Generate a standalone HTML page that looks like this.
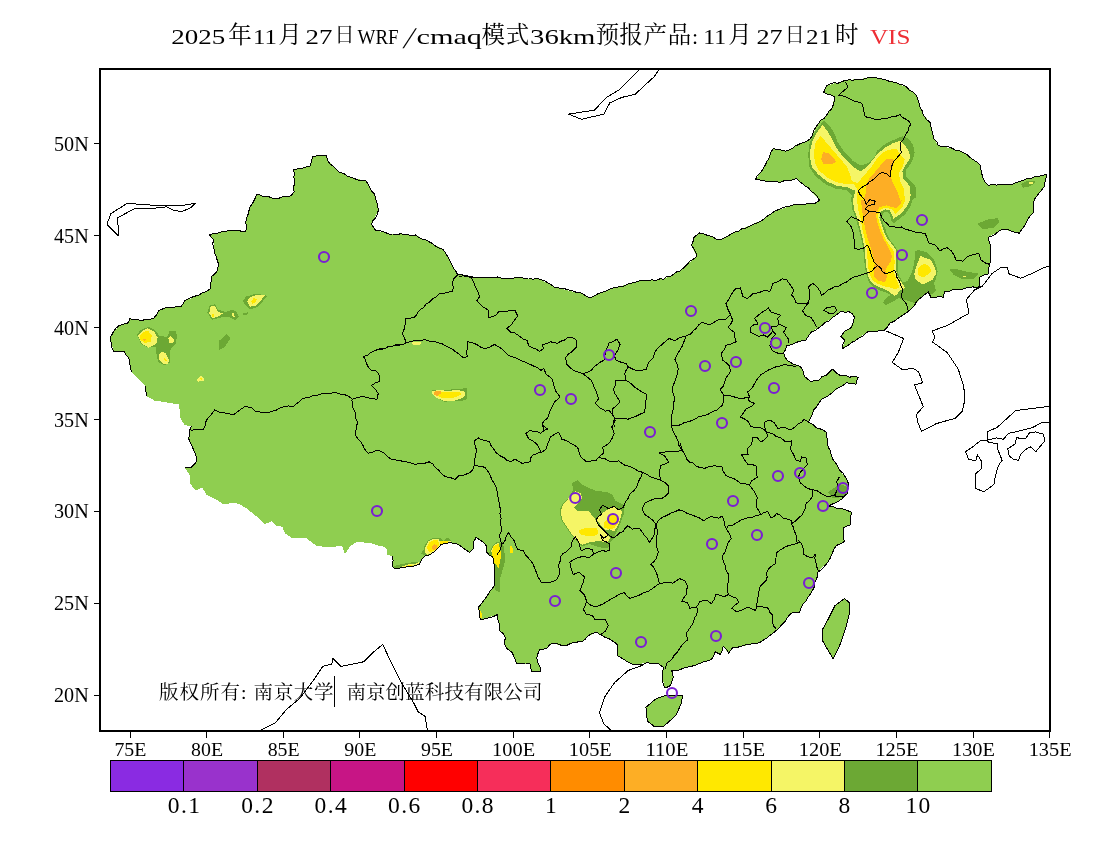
<!DOCTYPE html>
<html lang="zh"><head><meta charset="utf-8"><title>WRF/cmaq VIS</title>
<style>
html,body{margin:0;padding:0;background:#fff;}
body{width:1100px;height:850px;overflow:hidden;position:relative;font-family:"Liberation Serif","Noto Serif CJK SC","Noto Sans CJK SC",serif;color:#000;}
svg{position:absolute;left:0;top:0;}
svg text{font-family:"Liberation Serif","Noto Serif CJK SC","Noto Sans CJK SC",serif;fill:#000;}
.b{fill:none;stroke:#000;stroke-width:1;stroke-linejoin:round;shape-rendering:crispEdges;}
.f{shape-rendering:crispEdges;}
.c{fill:none;stroke:#7a1fd2;stroke-width:2.1;}
</style></head><body>
<svg width="1100" height="850" viewBox="0 0 1100 850">
<defs><clipPath id="fr"><rect x="100" y="69" width="950" height="662"/></clipPath><clipPath id="cn"><path d="M110.1,336.9 L119.1,325.5 L128.6,322.7 L129.5,318.6 L140.9,320.8 L153.2,318.6 L158.6,310.5 L165.5,307.7 L180.5,306.9 L184.5,300.9 L198.2,295.5 L210.5,288.6 L211.8,276.4 L217.3,270.9 L218.6,264.1 L214,249.1 L213.2,239.5 L209.6,234.9 L230.9,230 L245.9,231.4 L245.9,221.8 L250,206.8 L256.8,194.5 L274.5,198.6 L290.9,195.9 L294.2,191.8 L293.6,170 L310,165.9 L312.7,156.4 L326.4,155 L327.7,160.5 L340,172.7 L353.6,178.2 L365.9,180.9 L375.5,197.3 L378.2,210.9 L371.4,224.5 L375.5,230 L389.1,234.1 L415.5,234.9 L442.7,249.1 L457.7,275 L479.5,277.7 L516.4,277.7 L540.9,279.6 L554.5,287.3 L583.2,294.1 L590,297.6 L615.9,287.3 L636.4,281.8 L663.6,279.1 L680,270.9 L687.3,264.4 L696.8,256.2 L691.4,245.3 L694.1,237.1 L699.5,233 L720,239.8 L741.8,228.9 L763.6,219.4 L774.5,211.2 L796.4,204.4 L815.5,203 L819.5,200.3 L808.6,188 L796.4,178.5 L780,182.5 L766.4,181.2 L755.5,179.8 L769.1,158 L773.2,148.5 L785.5,151.2 L801.8,143 L810,138.9 L818.2,123.9 L831.8,108.9 L834.5,96.6 L823.6,92.5 L826.4,85.7 L845.5,80.3 L872.7,77.5 L891.8,81.6 L906.8,87.1 L916.4,95.3 L923.2,114.4 L930,122.5 L934.1,138.9 L938.2,145.7 L952.7,148.6 L966.4,154.1 L980,165 L982.7,177.3 L988.2,185.5 L1012.7,184.1 L1026.4,178.6 L1046.8,174.5 L1044.1,186.8 L1034.5,199.1 L1033.2,212.7 L1026.4,222.3 L1019.5,233.2 L1012.7,231.8 L1003.2,229.1 L988.2,237.3 L990.9,250.9 L989.5,264.5 L988.2,274.1 L980,276.8 L980,286.4 L969.1,287.7 L944.5,291.8 L943.2,297.3 L930.9,297.3 L928.2,291.8 L921.4,297.3 L909.1,310.9 L900.9,316.4 L890,323.2 L884.5,330 L868.2,331.4 L858.6,338.2 L846.4,346.4 L842.3,348.6 L845,340.5 L840.9,336.4 L845,330.9 L850.5,328.2 L854.5,317.3 L849.1,311.8 L840.9,311.3 L832.7,317.3 L821.8,325.5 L810.9,332.3 L805.5,340.5 L794.5,343.2 L786.4,345.9 L783.6,352.7 L787.7,360.9 L801.4,367.7 L804.1,375.9 L810.9,381.4 L819.1,380 L832.7,369.1 L840.9,375.9 L858.6,377.3 L855.9,384.1 L846.4,382.7 L832.7,392.3 L821.8,399.1 L813.6,410 L808.2,422.3 L816.4,427.7 L825.9,431.8 L827.3,442.7 L832.7,459.1 L839.5,470 L847.7,480.9 L847.7,493.2 L838.2,501.4 L828.6,506.8 L840.9,508.2 L851.8,512.3 L850,525 L843.2,527.7 L844.5,541.4 L836.4,545.5 L828.2,561.8 L817.3,572.7 L814.5,586.4 L807.7,597.3 L800.9,608.2 L799.5,612.3 L792.7,612.3 L781.8,624.5 L773.6,632.7 L760,642.3 L749.1,645 L732.7,647.7 L728.6,653.2 L723.2,646.4 L720.5,654.5 L715,651.8 L712.3,658.6 L704.1,661.4 L694.5,665.5 L683.6,668.2 L674.1,670.9 L671.8,670.5 L673.2,677.3 L670.5,685.5 L665,688.2 L662.3,677.3 L663.6,667.7 L658.2,663.6 L647.3,662.3 L636.4,665 L628.2,662.3 L617.3,655.5 L617.3,644.5 L606.4,637.7 L596.8,632.3 L587.3,636.4 L581.8,641.8 L570.9,643.2 L562.7,645.9 L551.8,643.2 L546.4,648.6 L539.5,650 L536.8,658.2 L540.9,671.3 L531.4,671.3 L530,663.6 L516.4,663.6 L512.3,652.7 L506.8,648.6 L504.1,643.2 L505.5,637.7 L500,630.9 L497.3,614.5 L480.9,620 L478.2,607.7 L487.5,595.3 L490.2,590.9 L494,586.5 L494.5,581.1 L494.5,572.4 L494,563.6 L492.9,557.1 L489.1,554.9 L486.4,551.6 L486.9,546.7 L484.7,543.5 L480.4,540.2 L476,537.5 L473.8,541.8 L473.3,548.9 L469.5,552.2 L465.1,549.5 L460.7,546.2 L456.4,543.5 L449.8,542.7 L445.5,543.5 L441.1,544.5 L438.9,547.3 L434.5,551.6 L429.1,555.1 L424.7,556 L421.5,559.8 L419.3,564.2 L416,565.3 L407.3,566.4 L405.1,567.5 L399.6,568 L393.6,568 L392.5,565.8 L393.1,560.4 L392,556 L386.5,554.4 L386.5,549.5 L384.4,546.7 L380,546.2 L370.9,543.2 L357.3,541.8 L350.5,545.9 L345,554.1 L342.3,545.9 L328.6,547.3 L316.4,545.9 L305.5,537.7 L291.8,537.7 L285,533.6 L282.3,526.8 L275.5,525.5 L271.4,521.4 L264.5,524.1 L257.7,517.3 L245.5,507.7 L238.6,503.6 L230.5,503.1 L223.6,504.5 L217.3,500 L206.4,494.5 L202.3,487.7 L195.5,490.5 L190,483.6 L190,475.5 L184.5,467.3 L191.4,467.3 L196.8,460.5 L194.1,450.9 L188.6,438.6 L191.4,426.4 L184.5,425 L180.5,418.2 L179.1,404.5 L170.9,403.2 L154.5,400.5 L146.4,396.4 L145,385.5 L131.4,371.8 L130,360.9 L124.5,351.4 L113.6,351.4Z"/></clipPath></defs>
<g id="title"><text x="171.3" y="43.5" font-size="22" textLength="54.0" lengthAdjust="spacingAndGlyphs">2025</text><text x="240.0" y="43" font-size="23.5" text-anchor="middle">年</text><text x="252.9" y="43.5" font-size="22" textLength="23.9" lengthAdjust="spacingAndGlyphs">11</text><text x="290.0" y="43" font-size="23.5" text-anchor="middle">月</text><text x="305.5" y="43.5" font-size="22" textLength="26.9" lengthAdjust="spacingAndGlyphs">27</text><text x="344.4" y="41.5" font-size="20" text-anchor="middle">日</text><text x="357.5" y="43.5" font-size="22" textLength="41.1" lengthAdjust="spacingAndGlyphs">WRF</text><text transform="translate(402.5,47.6) skewX(-17)" font-size="30">/</text><text x="416.5" y="43.5" font-size="22" textLength="65.5" lengthAdjust="spacingAndGlyphs">cmaq</text><text x="493.3" y="43" font-size="23.5" text-anchor="middle">模</text><text x="517.5" y="43" font-size="23.5" text-anchor="middle">式</text><text x="530.1" y="43.5" font-size="22" textLength="65.3" lengthAdjust="spacingAndGlyphs">36km</text><text x="607.4" y="43" font-size="23.5" text-anchor="middle">预</text><text x="631.0" y="43" font-size="23.5" text-anchor="middle">报</text><text x="655.2" y="43" font-size="23.5" text-anchor="middle">产</text><text x="679.5" y="43" font-size="23.5" text-anchor="middle">品</text><text x="692.0" y="44" font-size="22">:</text><text x="703.2" y="43.5" font-size="22" textLength="22.8" lengthAdjust="spacingAndGlyphs">11</text><text x="739.9" y="43" font-size="23.5" text-anchor="middle">月</text><text x="756.5" y="43.5" font-size="22" textLength="26.2" lengthAdjust="spacingAndGlyphs">27</text><text x="794.8" y="41.5" font-size="20" text-anchor="middle">日</text><text x="806.1" y="43.5" font-size="22" textLength="25.1" lengthAdjust="spacingAndGlyphs">21</text><text x="846.8" y="43" font-size="23.5" text-anchor="middle">时</text><text x="869.9" y="43.5" font-size="22" textLength="40.5" lengthAdjust="spacingAndGlyphs" fill="#ee2f35" style="fill:#ee2f35">VIS</text></g>
<g clip-path="url(#fr)">
<path class="f" d="M110.1,336.9 L119.1,325.5 L128.6,322.7 L129.5,318.6 L140.9,320.8 L153.2,318.6 L158.6,310.5 L165.5,307.7 L180.5,306.9 L184.5,300.9 L198.2,295.5 L210.5,288.6 L211.8,276.4 L217.3,270.9 L218.6,264.1 L214,249.1 L213.2,239.5 L209.6,234.9 L230.9,230 L245.9,231.4 L245.9,221.8 L250,206.8 L256.8,194.5 L274.5,198.6 L290.9,195.9 L294.2,191.8 L293.6,170 L310,165.9 L312.7,156.4 L326.4,155 L327.7,160.5 L340,172.7 L353.6,178.2 L365.9,180.9 L375.5,197.3 L378.2,210.9 L371.4,224.5 L375.5,230 L389.1,234.1 L415.5,234.9 L442.7,249.1 L457.7,275 L479.5,277.7 L516.4,277.7 L540.9,279.6 L554.5,287.3 L583.2,294.1 L590,297.6 L615.9,287.3 L636.4,281.8 L663.6,279.1 L680,270.9 L687.3,264.4 L696.8,256.2 L691.4,245.3 L694.1,237.1 L699.5,233 L720,239.8 L741.8,228.9 L763.6,219.4 L774.5,211.2 L796.4,204.4 L815.5,203 L819.5,200.3 L808.6,188 L796.4,178.5 L780,182.5 L766.4,181.2 L755.5,179.8 L769.1,158 L773.2,148.5 L785.5,151.2 L801.8,143 L810,138.9 L818.2,123.9 L831.8,108.9 L834.5,96.6 L823.6,92.5 L826.4,85.7 L845.5,80.3 L872.7,77.5 L891.8,81.6 L906.8,87.1 L916.4,95.3 L923.2,114.4 L930,122.5 L934.1,138.9 L938.2,145.7 L952.7,148.6 L966.4,154.1 L980,165 L982.7,177.3 L988.2,185.5 L1012.7,184.1 L1026.4,178.6 L1046.8,174.5 L1044.1,186.8 L1034.5,199.1 L1033.2,212.7 L1026.4,222.3 L1019.5,233.2 L1012.7,231.8 L1003.2,229.1 L988.2,237.3 L990.9,250.9 L989.5,264.5 L988.2,274.1 L980,276.8 L980,286.4 L969.1,287.7 L944.5,291.8 L943.2,297.3 L930.9,297.3 L928.2,291.8 L921.4,297.3 L909.1,310.9 L900.9,316.4 L890,323.2 L884.5,330 L868.2,331.4 L858.6,338.2 L846.4,346.4 L842.3,348.6 L845,340.5 L840.9,336.4 L845,330.9 L850.5,328.2 L854.5,317.3 L849.1,311.8 L840.9,311.3 L832.7,317.3 L821.8,325.5 L810.9,332.3 L805.5,340.5 L794.5,343.2 L786.4,345.9 L783.6,352.7 L787.7,360.9 L801.4,367.7 L804.1,375.9 L810.9,381.4 L819.1,380 L832.7,369.1 L840.9,375.9 L858.6,377.3 L855.9,384.1 L846.4,382.7 L832.7,392.3 L821.8,399.1 L813.6,410 L808.2,422.3 L816.4,427.7 L825.9,431.8 L827.3,442.7 L832.7,459.1 L839.5,470 L847.7,480.9 L847.7,493.2 L838.2,501.4 L828.6,506.8 L840.9,508.2 L851.8,512.3 L850,525 L843.2,527.7 L844.5,541.4 L836.4,545.5 L828.2,561.8 L817.3,572.7 L814.5,586.4 L807.7,597.3 L800.9,608.2 L799.5,612.3 L792.7,612.3 L781.8,624.5 L773.6,632.7 L760,642.3 L749.1,645 L732.7,647.7 L728.6,653.2 L723.2,646.4 L720.5,654.5 L715,651.8 L712.3,658.6 L704.1,661.4 L694.5,665.5 L683.6,668.2 L674.1,670.9 L671.8,670.5 L673.2,677.3 L670.5,685.5 L665,688.2 L662.3,677.3 L663.6,667.7 L658.2,663.6 L647.3,662.3 L636.4,665 L628.2,662.3 L617.3,655.5 L617.3,644.5 L606.4,637.7 L596.8,632.3 L587.3,636.4 L581.8,641.8 L570.9,643.2 L562.7,645.9 L551.8,643.2 L546.4,648.6 L539.5,650 L536.8,658.2 L540.9,671.3 L531.4,671.3 L530,663.6 L516.4,663.6 L512.3,652.7 L506.8,648.6 L504.1,643.2 L505.5,637.7 L500,630.9 L497.3,614.5 L480.9,620 L478.2,607.7 L487.5,595.3 L490.2,590.9 L494,586.5 L494.5,581.1 L494.5,572.4 L494,563.6 L492.9,557.1 L489.1,554.9 L486.4,551.6 L486.9,546.7 L484.7,543.5 L480.4,540.2 L476,537.5 L473.8,541.8 L473.3,548.9 L469.5,552.2 L465.1,549.5 L460.7,546.2 L456.4,543.5 L449.8,542.7 L445.5,543.5 L441.1,544.5 L438.9,547.3 L434.5,551.6 L429.1,555.1 L424.7,556 L421.5,559.8 L419.3,564.2 L416,565.3 L407.3,566.4 L405.1,567.5 L399.6,568 L393.6,568 L392.5,565.8 L393.1,560.4 L392,556 L386.5,554.4 L386.5,549.5 L384.4,546.7 L380,546.2 L370.9,543.2 L357.3,541.8 L350.5,545.9 L345,554.1 L342.3,545.9 L328.6,547.3 L316.4,545.9 L305.5,537.7 L291.8,537.7 L285,533.6 L282.3,526.8 L275.5,525.5 L271.4,521.4 L264.5,524.1 L257.7,517.3 L245.5,507.7 L238.6,503.6 L230.5,503.1 L223.6,504.5 L217.3,500 L206.4,494.5 L202.3,487.7 L195.5,490.5 L190,483.6 L190,475.5 L184.5,467.3 L191.4,467.3 L196.8,460.5 L194.1,450.9 L188.6,438.6 L191.4,426.4 L184.5,425 L180.5,418.2 L179.1,404.5 L170.9,403.2 L154.5,400.5 L146.4,396.4 L145,385.5 L131.4,371.8 L130,360.9 L124.5,351.4 L113.6,351.4Z" fill="#8FCE50"/>
<path class="f" d="M844.5,598.6 L849.5,602.7 L849.5,613.6 L845.9,627.3 L840.5,643.6 L833.1,658.6 L828.2,650.5 L822.7,640.9 L822.2,630 L828.2,619.1 L835,605.5Z" fill="#8FCE50"/>
<path class="f" d="M645.9,707.3 L655.5,699.1 L666.4,695 L682.7,695 L681.4,703.2 L675.9,715.5 L663.6,726.4 L654.1,726.4 L647.3,720.9Z" fill="#8FCE50"/>
<g clip-path="url(#cn)" class="f"><path d="M917.3,249.8 L926.4,252 L934.3,260 L937.7,271.4 L935.5,280.5 L932,287.3 L926.4,293 L917.3,294.1 L908.2,294.1 L901.4,296.4 L892.3,302 L885.5,305.5 L883.2,302 L887.7,296.4 L894.5,294.1 L901.4,289.5 L908.2,282.7 L912.7,278.2 L913.9,266.8 L915,255.5Z" fill="#6CA834"/>
<path d="M949.1,268.6 L958.2,269.5 L967.3,271.8 L978.6,273.6 L973,279.3 L962.7,279.3 L953.6,274.8Z" fill="#6CA834"/>
<path d="M962.3,275.5 L966.1,275.5 L966.6,277.3 L962.7,277.3Z" fill="#F5F566"/>
<path d="M977.5,223.6 L987.7,219.5 L998,218 L999.1,222.5 L993.4,227.7 L983.2,229.3Z" fill="#6CA834"/>
<path d="M1020.7,183.9 L1028.6,180.5 L1035.5,181.6 L1030.9,186.1 L1023,187.7Z" fill="#6CA834"/>
<path d="M1028.6,182.3 L1033.2,182.3 L1033.2,184.1 L1029.1,184.1Z" fill="#F5F566"/>
<path d="M824.1,120.3 L829.4,125.6 L834.1,132.6 L837.6,142.1 L844.7,152.6 L852.9,160.9 L861.2,165.6 L868.2,163.2 L874.1,157.4 L877.6,150.3 L884.7,144.4 L894.1,139.7 L902.4,136.2 L908.2,138.5 L912.9,144.4 L914.7,152.6 L912.4,160.9 L905.9,170.3 L905.9,176.2 L912.9,183.2 L916.5,187.9 L915.9,197.4 L912.4,200 L910,207.1 L905.3,214.1 L899.4,218.8 L894.1,223.5 L891.2,221.2 L890,214.1 L886.5,211.8 L882.9,212.9 L881.8,217.6 L882.9,223.5 L885.3,228.2 L886.5,232.9 L890,240 L894.7,245.9 L897.6,250.6 L897.6,268.2 L898.8,275.3 L902.9,282.4 L907.6,281.2 L912.4,270.6 L914.7,261.2 L915.3,250.6 L921.8,250.6 L930,255.3 L934.7,261.2 L937.1,270.6 L933.5,281.2 L935.9,290.6 L932.4,294.1 L924.1,297.6 L919.4,300 L915,303 L905,300 L898,298 L892,302 L885.5,305.5 L883,302 L888,297 L893.5,297.6 L887.6,292.9 L880.6,290.6 L873.5,287.1 L868.8,282.4 L866.5,275.3 L864.7,265.9 L864.1,256.5 L862.9,247.1 L861.2,238.8 L858.8,229.4 L855.9,218.8 L852.4,209.4 L851.2,200 L851.8,195 L847.1,190.3 L835.3,188.5 L825.9,184.4 L815.3,176.2 L809.4,166.8 L808.2,155 L809.4,144.4 L812.9,135 L818.8,126.8Z" fill="#6CA834"/>
<path d="M822.4,125 L827.1,130.3 L831.8,138.5 L836.5,147.9 L843.5,157.4 L851.8,165.6 L860,171.5 L867.1,166.8 L872.9,159.7 L877.6,153.8 L884.7,147.9 L892.9,143.2 L900,140.9 L905.3,145.6 L909.4,152.6 L910,158.5 L905.9,164.4 L902.4,171.5 L903.5,178.5 L909.4,185.6 L910.6,195 L910,200 L906.5,207.1 L900.6,214.1 L893.5,218.8 L890,210.6 L885.3,209.4 L880.6,211.8 L879.4,217.6 L881.8,224.7 L884.1,231.8 L887.6,238.8 L892.4,244.7 L895.9,249.4 L895.9,268.2 L897.1,275.3 L900.6,281.2 L905.3,287.6 L899.4,290.6 L897.6,294.1 L894.1,295.9 L888.8,291.2 L881.8,288.2 L875.3,285.3 L870.6,281.2 L867.9,275.3 L866.2,265.9 L865.3,256.5 L864.4,247.1 L862.7,238.8 L860.4,229.4 L857.6,218.8 L854.1,209.4 L852.9,200 L855.3,190.9 L848.2,187.4 L836.5,185.6 L827.1,181.5 L817.6,173.8 L811.8,166.8 L810,157.4 L810.6,147.9 L812.9,139.7 L817.6,131.5Z" fill="#F5F566"/>
<path d="M820.6,135.6 L825.9,142.1 L832.9,150.3 L840,158.5 L847.1,166.8 L850.6,176.2 L851.8,180.9 L857.6,183.2 L862.4,177.4 L870.6,167.9 L875.3,160.9 L881.2,153.8 L888.2,149.7 L896.5,149.1 L900,153.8 L904.7,159.7 L902.9,166.8 L898.8,172.6 L900,180.9 L903.5,187.9 L904.7,197.4 L905.3,200 L901.8,208.2 L895.9,214.1 L891.2,208.8 L884.1,207.6 L878.8,211.2 L878.2,217.6 L880,224.7 L882.4,231.8 L885.3,238.8 L890,245.9 L893.5,250.6 L894.7,261.2 L894.1,269.4 L894.7,275.3 L897.1,281.2 L899.4,287.1 L895.9,289.4 L890,287.6 L882.9,285.9 L877.1,283.5 L872.4,280 L869.4,274.1 L867.9,265.9 L867.4,256.5 L866.5,247.1 L864.7,238.8 L862.4,229.4 L860.6,218.8 L858.2,209.4 L857.1,200 L857.6,190.3 L854.1,184.4 L847.1,184.4 L836.5,182.1 L827.1,177.4 L818.8,170.3 L814.7,162.1 L814.1,152.6 L815.3,143.2Z" fill="#FFE800"/>
<path d="M887.1,158.5 L892.9,158.5 L894.1,162.1 L891.8,169.1 L890.6,176.2 L892.9,183.2 L897.6,192.6 L900.6,200.9 L901.8,200 L900.6,203.5 L895.9,208.2 L886.5,205.3 L879.4,207.1 L875.9,215.3 L877.6,223.5 L880.6,231.8 L884.1,240 L888.8,248.2 L891.8,255.3 L891.2,261.2 L887.6,265.9 L885.3,270.6 L887.1,276.5 L885.3,281.8 L879.4,281.2 L874.7,277.6 L873.5,270.6 L874.7,263.5 L872.9,255.3 L870.6,247.1 L867.6,238.8 L865.3,229.4 L863.5,218.8 L861.8,209.4 L861.2,200 L863.5,199.7 L865.9,192.6 L865.9,185.6 L869.4,178.5 L876.5,170.3 L882.4,163.2Z" fill="#FDAE25"/>
<path d="M822.9,152.1 L828.2,153.2 L834.1,158.5 L836.5,162.1 L830.6,164.4 L823.5,164.4 L821.2,159.7Z" fill="#FDAE25"/>
<path d="M920.6,255.3 L924.1,257.6 L931.2,260 L934.1,265.9 L936.5,272.9 L932.4,280 L922.9,284.7 L915.9,280 L914.1,274.1 L916.5,265.9Z" fill="#F5F566"/>
<path d="M924.1,263.5 L928.8,265.9 L931.2,270.6 L928.8,274.1 L922.9,277.6 L918.2,275.3 L917.6,269.4 L920.6,265.9Z" fill="#FFE800"/>
<path d="M572.3,483.2 L577.6,480.1 L582.3,484.8 L588.7,488 L597.2,491.2 L605.6,491.7 L612,494.4 L615.2,500.7 L622.1,503.9 L624.7,507.1 L623.6,514.5 L620.5,522.9 L617.3,530.3 L614.1,537.8 L609.9,543.1 L607.8,548.3 L599.3,547.3 L589.8,544.1 L582.3,546.2 L579.2,544.1 L573.9,537.8 L569.6,532.5 L565.4,526.1 L561.2,519.8 L559.6,510.2 L562.2,503.9 L568.6,498.6 L572.8,490.1Z" fill="#6CA834"/>
<path d="M570.7,495.4 L574.9,491.2 L580.2,492.8 L582.3,497.5 L578.1,503.9 L573.9,507.1 L577.1,510.8 L588.7,511.3 L594,517.6 L597.2,521.9 L600.3,526.1 L603.5,530.3 L606.7,534.6 L609.9,537.8 L607.8,542 L603.5,542 L599.3,540.9 L590.8,542 L582.3,544.6 L579.2,543.1 L574.9,537.8 L570.7,532.5 L566.5,526.1 L562.2,519.8 L560.6,511.3 L562.8,504.9 L567.5,499.6Z" fill="#F5F566"/>
<path d="M613.1,506 L616.2,509.2 L622.6,510.8 L620.5,517.6 L618.3,525.1 L614.1,531.4 L609.9,529.3 L605.6,530.3 L602.5,527.2 L599.3,522.9 L596.1,519.2 L603.5,512.3Z" fill="#F5F566"/>
<path d="M579.2,530.3 L586.6,527.7 L597.2,528.2 L598.2,533.5 L595.1,535.6 L585.5,535.6 L579.7,534.1Z" fill="#FFE800"/>
<path d="M608.8,516.6 L614.1,513.4 L618.3,516.6 L618.9,521.9 L616.2,525.1 L614.1,528.2 L608.8,529.3 L603.5,527.2 L603.5,522.9 L606.7,519.8Z" fill="#FFE800"/>
<path d="M137,334.5 L140.9,329.8 L148.6,326.7 L154.8,329.8 L159.5,336 L167.2,336.8 L169.5,331.4 L175.7,330.6 L177.2,336 L175.7,343.7 L171,348.4 L169.5,353 L170.3,362.3 L164.1,365.4 L157.9,361.5 L156.4,353 L155.6,346.8 L148.6,347.6 L140.9,343.7Z" fill="#6CA834"/>
<path d="M137.8,336 L141.7,331.4 L147.9,328.3 L154,331.4 L157.6,337.5 L156.4,343.7 L148.6,347.6 L141.7,343.7Z" fill="#F5F566"/>
<path d="M139.4,336.8 L143.2,332.1 L147.9,330.6 L151.7,335.2 L151,341.4 L144.8,343 L140.1,339.9Z" fill="#FFE800"/>
<path d="M143.2,339.1 L146.3,339.1 L144.8,341.4Z" fill="#FDAE25"/>
<path d="M168.4,338.3 L171,336 L173.7,339.1 L173.4,343.4 L169.5,343.4Z" fill="#F5F566"/>
<path d="M158.7,354.5 L161.8,351.5 L165.6,353 L168.7,359.2 L168.4,363.5 L163.3,363.8 L159.5,360Z" fill="#F5F566"/>
<path d="M164.1,357.6 L167.2,360.7 L164.9,361.5Z" fill="#FFE800"/>
<path d="M207.4,312.8 L209.7,305.1 L215.1,304.3 L218.2,309.7 L225.9,312 L232.1,309.7 L236.7,312 L239,316.7 L235.2,320.5 L230.5,317.5 L224.4,316.7 L218.2,318.2 L212,319.8Z" fill="#6CA834"/>
<path d="M209.2,313.6 L210.8,305.9 L214.8,305.9 L217.4,311.3 L222.8,313.6 L218.2,316.7 L212.8,318.2Z" fill="#F5F566"/>
<path d="M212,313.6 L213.9,313.6 L213.5,316.7 L212,316.7Z" fill="#FFE800"/>
<path d="M232.1,313.6 L233.6,312.8 L234.9,316.7 L232.9,317.8Z" fill="#F5F566"/>
<path d="M242.9,301.2 L246,296.6 L253.7,294.3 L264.5,294.6 L266.9,296.1 L262.2,302 L256.8,307.4 L249.9,309.7 L246,305.9Z" fill="#6CA834"/>
<path d="M247.2,301.2 L249.9,297.4 L256,295 L264.5,295.5 L260.7,301.2 L256,305.9 L249.9,306.6Z" fill="#F5F566"/>
<path d="M251.4,301.2 L253.7,298.1 L256.8,298.9 L255.3,302 L251.9,304.8Z" fill="#FFE800"/>
<path d="M242.6,313.6 L248.3,312 L248.3,314.1 L243.7,315.6Z" fill="#6CA834"/>
<path d="M219.3,340.6 L226.7,334.1 L230.5,338.3 L224.4,347.6 L219.3,349.6Z" fill="#6CA834"/>
<path d="M196.2,380 L201.2,375.9 L203.5,377.7 L203.5,381.1 L198.1,381.6Z" fill="#F5F566"/>
<path d="M199.6,378.5 L202.4,377.7 L202.4,380.5Z" fill="#FFE800"/>
<path d="M432,390 L458.3,389.3 L466.8,387.7 L466.8,399.3 L461.4,400.9 L444.4,401.6 L435.1,397Z" fill="#6CA834"/>
<path d="M432,391.6 L438.2,390 L447.5,390.8 L458.3,390 L464.5,391.6 L465.2,395.5 L461.4,398.5 L453.6,400.9 L444.4,400.9 L436.6,397.8 L432.8,394.7Z" fill="#F5F566"/>
<path d="M436.6,391.6 L447.5,391.6 L458.3,391.6 L461.4,393.9 L458.3,396.2 L450.6,398.5 L441.3,397.8 L436.6,395.5Z" fill="#FFE800"/>
<path d="M433.9,391.6 L440.5,391.1 L441.3,393.1 L436.6,396.2 L434.3,394.7Z" fill="#FDAE25"/>
<path d="M412.2,341.8 L420.9,341.8 L420.4,345.1 L412.7,345.1Z" fill="#F5F566"/>
<path d="M420.9,553.8 L423.6,549.5 L424.7,545.1 L428,540.7 L433.5,537.5 L439.5,537.5 L443.3,540.7 L447.6,537.5 L450.9,540.2 L449.8,542.9 L445.5,543.5 L441.1,544.5 L436.7,551.6 L426.9,555.5Z" fill="#6CA834"/>
<path d="M425.3,547.3 L428,541.8 L432.4,539.1 L437.8,538.5 L440.5,541.8 L440,547.3 L436.7,551.1 L431.3,553.8 L426.9,554.9 L424.7,551.6Z" fill="#F5F566"/>
<path d="M426.9,547.3 L429.1,542.4 L433.5,540.2 L437.8,540.2 L439.5,543.5 L437.8,548.4 L433.5,551.1 L429.1,552.2Z" fill="#FFE800"/>
<path d="M432.4,545.6 L434.5,544 L436.7,545.6 L437.3,548.9 L434,550 L432.1,548.9Z" fill="#FDAE25"/>
<path d="M448.2,540.7 L450.9,540.5 L450.9,542.9 L448.2,543.1Z" fill="#F5F566"/>
<path d="M394.2,565.8 L401.8,564.2 L410.5,562.5 L418.2,561.5 L419.8,563.6 L416,565.8 L405.1,568 L393.6,568.5Z" fill="#6CA834"/>
<path d="M393.1,569.1 L399.6,567.5 L405.1,565.3 L410.5,564 L417.1,563.4 L418.7,562.3 L419.5,564.7 L416,566 L409.5,567.7 L401.8,570.4 L393.1,570.9Z" fill="#F5F566"/>
<path d="M393.6,569.3 L399.6,568 L406.2,566 L410.5,564.7 L412.7,565.3 L409.5,567.1 L401.8,570 L393.6,570.6Z" fill="#FFE800"/>
<path d="M400.7,568.9 L406.2,567.1 L408.9,566.9 L407.3,568 L401.8,569.7Z" fill="#FDAE25"/>
<path d="M489.1,552.7 L492.4,546.2 L496.7,541.8 L500,541.8 L500,592 L495.6,590.9 L494,581.1 L493.5,565.8 L491.3,559.3Z" fill="#6CA834"/>
<path d="M490.7,551.1 L494,545.1 L498.4,542.9 L500,544 L500,563.6 L498.4,569.1 L496.7,565.8 L494.5,557.1Z" fill="#F5F566"/>
<path d="M492.4,551.1 L495.1,546.2 L498.4,544.5 L499.5,552.7 L498.9,560.4 L497.3,561.5 L495.6,556Z" fill="#FFE800"/>
<path d="M489.1,554.5 L502.7,540.9 L505.5,560 L500,579.1 L494.5,587.3 L493.2,568.2Z" fill="#6CA834"/>
<path d="M493.2,546.4 L498.6,543.6 L501.4,554.5 L498.6,568.2 L494.5,562.7 L491.8,553.2Z" fill="#FFE800"/>
<path d="M509.5,546.4 L512.3,546.4 L513.1,553.2 L509.5,553.2Z" fill="#FFE800"/>
<path d="M479.5,609.1 L482.3,614.5 L480.9,620 L478.2,618.6Z" fill="#FFE800"/>
<path d="M440,540.9 L450.9,541.7 L450.4,543.6 L440,543.6Z" fill="#FFE800"/>
<path d="M828,492 L840,484 L850,488 L846,497 L832,498Z" fill="#6CA834"/>
</g>
<path class="b" d="M131.4,371.8 L130.6,368.2 L129.9,364.6 L130,360.9 L128.4,357.6 L125.7,354.9 L124.5,351.4 L120.9,351.3 L117.2,351.6 L113.6,351.4 L112,348 L111.9,344.1 L110.2,340.7 L110.1,336.9 L112.3,334 L114,330.7 L116.3,327.9 L119.1,325.5 L123.8,324 L128.6,322.7 L129.5,318.6 L133.2,319.9 L137.2,319.4 L140.9,320.8 L144.9,319.6 L149.1,319.5 L153.2,318.6 L156.5,315 L158.6,310.5 L162.1,309.2 L165.5,307.7 L169.2,307.3 L173,308.1 L176.7,306.3 L180.5,306.9 L183,304.2 L184.5,300.9 L187.8,299.2 L191.1,297.6 L194.5,296.2 L198.2,295.5 L202.1,292.9 L206.7,291.4 L210.5,288.6 L210.4,284.5 L211.5,280.5 L211.8,276.4 L214.7,273.8 L217.3,270.9 L218.6,264.1 L217.2,260.4 L216.4,256.6 L214.4,253.1 L214,249.1 L212.9,244.4 L213.2,239.5 L209.6,234.9 L213,233.6 L216.8,233.6 L220.2,232.3 L223.7,231.3 L227.4,231 L230.9,230 L234.7,230.3 L238.4,230.4 L242.1,231.5 L245.9,231.4 L246.2,226.6 L245.9,221.8 L246.5,217.9 L248.1,214.3 L249,210.6 L250,206.8 L252.8,203 L254.9,198.8 L256.8,194.5 L260.4,195 L263.7,196.9 L267.6,196.3 L271,197.6 L274.5,198.6 L278.7,198.4 L282.6,196.7 L286.8,196.6 L290.9,195.9 L294.2,191.8 L293.3,188.2 L294.3,184.5 L294.3,180.9 L293.9,177.3 L294.3,173.6 L293.6,170 L297.6,168.7 L301.9,168.3 L305.9,167.1 L310,165.9 L311.5,161.2 L312.7,156.4 L317.3,155.9 L321.9,156 L326.4,155 L327.7,160.5 L330.2,164.1 L333.9,166.6 L336.7,169.8 L340,172.7 L343.7,173.4 L346.7,175.8 L350.1,177.1 L353.6,178.2 L357.5,179.9 L361.7,180.5 L365.9,180.9 L368.1,184 L369.9,187.4 L371.4,190.9 L374.3,193.6 L375.5,197.3 L376.5,201.8 L377.9,206.3 L378.2,210.9 L377.1,214.6 L375.5,218 L372.7,220.9 L371.4,224.5 L375.5,230 L380.2,230.8 L384.7,232.3 L389.1,234.1 L392.9,234 L396.6,235 L400.4,233.7 L404.2,234.5 L408,234.8 L411.7,235.4 L415.5,234.9 L418.6,237.2 L422,239 L425.9,239.9 L429.2,241.9 L432.6,243.6 L435.6,246.1 L438.9,248 L442.7,249.1 L445.1,252 L446.9,255.3 L448.7,258.6 L450.6,261.8 L452.1,265.3 L453.8,268.6 L456.2,271.6 L457.7,275 L461.4,274.6 L465,275.8 L468.6,276.1 L472.2,276.9 L475.8,278 L479.5,277.7 L483.2,278 L486.9,277.7 L490.6,277.9 L494.3,278 L497.9,276.9 L501.6,278.4 L505.3,278.2 L509,278.3 L512.7,278.2 L516.4,277.7 L520.5,277.8 L524.6,278.2 L528.7,278 L532.7,279.2 L536.9,278.5 L540.9,279.6 L544.7,280.9 L547.9,283 L551.4,284.9 L554.5,287.3 L558.2,287.9 L561.9,288.3 L565.5,289 L569,290.1 L572.6,290.9 L576.1,292.2 L579.8,292.5 L583.2,294.1 L586.3,296.4 L590,297.6 L593.8,296.3 L597.2,294.1 L600.9,292.8 L604.7,291.5 L608.4,290 L612,288.2 L615.9,287.3 L620.2,286.8 L624.3,285.9 L628.2,283.9 L632.3,282.9 L636.4,281.8 L640.2,280.7 L644.1,280.4 L648,280.4 L651.9,279.9 L655.9,280.4 L659.7,278.9 L663.6,279.1 L666.5,276.7 L670.5,276.5 L673.5,274.2 L676.5,272 L680,270.9 L683.7,267.7 L687.3,264.4 L689.9,261.1 L693.7,259 L696.8,256.2 L695.7,252.2 L693.8,248.7 L691.4,245.3 L693.1,241.3 L694.1,237.1 L699.5,233 L703.7,234 L707.8,235.5 L712,236.5 L715.8,238.9 L720,239.8 L723.7,238 L727.5,236.6 L730.8,234.1 L734.3,232.1 L738.4,231.2 L741.8,228.9 L745.8,228.1 L749.3,226.3 L752.9,224.6 L756.5,223.1 L760.1,221.4 L763.6,219.4 L767,216.3 L770.9,214 L774.5,211.2 L778.1,209.8 L781.6,208.2 L785.2,207 L789,206.3 L792.6,205.1 L796.4,204.4 L800.2,204.4 L804.1,204.6 L807.9,203.5 L811.7,204 L815.5,203 L819.5,200.3 L817.4,196.7 L814.6,193.6 L811.2,191.2 L808.6,188 L805.3,186 L802.2,183.6 L799.1,181.3 L796.4,178.5 L792.4,180 L788.2,180.3 L783.9,180.8 L780,182.5 L775.5,181.5 L770.9,181.7 L766.4,181.2 L762.8,180.5 L759.2,179.8 L755.5,179.8 L756.8,176.3 L759.6,173.7 L761.9,170.8 L763.7,167.6 L765.6,164.5 L767.1,161.1 L769.1,158 L770.6,153 L773.2,148.5 L777.2,149.9 L781.5,150 L785.5,151.2 L789,150 L792.4,148.6 L795.2,146.1 L798.5,144.5 L801.8,143 L806.2,141.6 L810,138.9 L812.4,135.3 L813.6,131.1 L815.6,127.3 L818.2,123.9 L820.5,120.5 L824.1,118.4 L826.7,115.2 L828.6,111.5 L831.8,108.9 L833.2,104.9 L834.4,100.9 L834.5,96.6 L831,95 L827.1,94.1 L823.6,92.5 L825.1,89.1 L826.4,85.7 L830,84 L833.8,82.7 L838.1,83.2 L841.7,81.6 L845.5,80.3 L849.4,79.9 L853.3,80.2 L857.1,79 L861.1,79.3 L865,78.9 L868.8,77.4 L872.7,77.5 L876.6,77.9 L880.4,78.8 L884.3,79.5 L887.9,80.9 L891.8,81.6 L895.7,82.6 L899.3,84.2 L903.3,85.1 L906.8,87.1 L909.5,90.4 L913.4,92.4 L916.4,95.3 L917.8,99.1 L919,103 L919.8,107 L922,110.5 L923.2,114.4 L926.1,118.9 L930,122.5 L931,126.6 L932,130.7 L933,134.8 L934.1,138.9 L936.9,141.9 L938.2,145.7 L941.8,146.3 L945.6,146.6 L949.2,147 L952.7,148.6 L955.9,150.4 L959.8,150.8 L963,152.7 L966.4,154.1 L969.6,157.1 L973.1,159.6 L976.8,162 L980,165 L980.9,169.1 L981.7,173.2 L982.7,177.3 L985,181.7 L988.2,185.5 L992.2,184.6 L996.4,185.1 L1000.4,184.4 L1004.5,184.2 L1008.6,184.8 L1012.7,184.1 L1016.1,182.7 L1019.6,181.4 L1023.1,180.4 L1026.4,178.6 L1030.6,178.5 L1034.5,176.9 L1038.7,176.3 L1042.7,175.3 L1046.8,174.5 L1045.9,178.6 L1044.7,182.6 L1044.1,186.8 L1041.8,189.9 L1039.3,192.9 L1036.9,196 L1034.5,199.1 L1033.3,203.6 L1033.3,208.1 L1033.2,212.7 L1030.4,215.5 L1028.1,218.7 L1026.4,222.3 L1024.4,226.2 L1021.7,229.5 L1019.5,233.2 L1012.7,231.8 L1008.2,229.7 L1003.2,229.1 L999.2,230.6 L996,233.7 L992.3,235.8 L988.2,237.3 L989.2,241.8 L990.7,246.2 L990.9,250.9 L990.9,255.5 L990.7,260 L989.5,264.5 L988.6,269.3 L988.2,274.1 L983.9,275 L980,276.8 L979.3,281.6 L980,286.4 L976.4,287.4 L972.7,286.9 L969.1,287.7 L965,288.1 L961,289.7 L956.7,289.1 L952.6,289.6 L948.7,291.6 L944.5,291.8 L943.2,297.3 L939.1,296.5 L935,297.5 L930.9,297.3 L928.2,291.8 L924.8,294.6 L921.4,297.3 L918.3,299.5 L916.1,302.4 L914.4,305.8 L911.6,308.3 L909.1,310.9 L905,313.6 L900.9,316.4 L897.4,318.9 L893.9,321.4 L890,323.2 L887.5,326.8 L884.5,330 L880.4,330 L876.4,331.5 L872.3,331 L868.2,331.4 L865.1,333.7 L862.3,336.6 L858.6,338.2 L855.7,340.5 L852.4,342.1 L849.4,344.3 L846.4,346.4 L842.3,348.6 L842.9,344.3 L845,340.5 L840.9,336.4 L845,330.9 L850.5,328.2 L852.6,324.9 L853.6,321.1 L854.5,317.3 L852.4,314 L849.1,311.8 L845,312.2 L840.9,311.3 L837,314.6 L832.7,317.3 L829.5,320.7 L825.1,322.4 L821.8,325.5 L818.4,328.1 L814.9,330.6 L810.9,332.3 L808.3,336.5 L805.5,340.5 L801.7,340.7 L798,341.8 L794.5,343.2 L790.6,344.9 L786.4,345.9 L785.6,349.5 L783.6,352.7 L785,357.1 L787.7,360.9 L791.1,362.7 L794.4,364.6 L798.3,365.4 L801.4,367.7 L803.5,371.6 L804.1,375.9 L807.3,378.9 L810.9,381.4 L815,380.6 L819.1,380 L822,376.7 L826.4,375.1 L829.4,372 L832.7,369.1 L836.5,372.9 L840.9,375.9 L845.4,375.5 L849.7,377.2 L854.2,376.2 L858.6,377.3 L856.7,380.5 L855.9,384.1 L851.1,383.5 L846.4,382.7 L843.1,385.3 L839.5,387.4 L835.7,389.3 L832.7,392.3 L829.3,394.9 L825.8,397.4 L821.8,399.1 L819,402.7 L816.7,406.6 L813.6,410 L812.4,414.4 L810.5,418.4 L808.2,422.3 L812.7,424.4 L816.4,427.7 L821.4,429.3 L825.9,431.8 L826.7,435.4 L827.2,439 L827.3,442.7 L828.2,446.9 L830.3,450.8 L831.3,455 L832.7,459.1 L835.4,462.4 L837.5,466.2 L839.5,470 L842.9,473.1 L845.3,477 L847.7,480.9 L848.5,485 L847.3,489.1 L847.7,493.2 L844.5,495.9 L841.7,499.1 L838.2,501.4 L835,503.2 L831.4,504.4 L828.6,506.8 L832.8,506.6 L836.7,508.3 L840.9,508.2 L844.6,509.5 L848.2,510.9 L851.8,512.3 L850.6,516.5 L850.8,520.8 L850,525 L846.6,526.3 L843.2,527.7 L843.3,532.3 L843.3,536.9 L844.5,541.4 L840.6,543.7 L836.4,545.5 L834.3,548.5 L832.8,551.9 L831.3,555.2 L830,558.6 L828.2,561.8 L825.7,564.7 L823.3,567.8 L820.5,570.4 L817.3,572.7 L817.1,577.4 L815,581.8 L814.5,586.4 L812.6,590.3 L810.5,594 L807.7,597.3 L806,601.3 L802.7,604.3 L800.9,608.2 L799.5,612.3 L792.7,612.3 L789.5,614.9 L787,618.2 L784.8,621.7 L781.8,624.5 L779.4,627.5 L776.6,630.2 L773.6,632.7 L770.2,635.2 L767.1,638 L763.5,640 L760,642.3 L756.5,643.6 L752.5,643.3 L749.1,645 L744.9,644.9 L740.9,646.3 L736.9,647.5 L732.7,647.7 L728.6,653.2 L726.5,649.3 L723.2,646.4 L722.2,650.6 L720.5,654.5 L715,651.8 L713.9,655.3 L712.3,658.6 L708.5,660.8 L704.1,661.4 L699.4,663.6 L694.5,665.5 L690.9,666.4 L687.2,667.3 L683.6,668.2 L679,670 L674.1,670.9 L671.8,670.5 L673.2,677.3 L671.8,681.4 L670.5,685.5 L665,688.2 L663.3,684.8 L662.8,681 L662.3,677.3 L662.3,672.4 L663.6,667.7 L658.2,663.6 L654.5,663.3 L650.8,663.5 L647.3,662.3 L643.9,664 L640.1,664.4 L636.4,665 L632.2,664.1 L628.2,662.3 L624.6,659.9 L621,657.7 L617.3,655.5 L617.7,651.8 L617.6,648.2 L617.3,644.5 L613.9,641.9 L610.4,639.4 L606.4,637.7 L603.1,636.1 L599.9,634.4 L596.8,632.3 L591.7,633.6 L587.3,636.4 L585,639.5 L581.8,641.8 L578.1,641.9 L574.5,642.5 L570.9,643.2 L567,645.3 L562.7,645.9 L559.2,644.4 L555.6,643.5 L551.8,643.2 L548.9,645.7 L546.4,648.6 L539.5,650 L537.8,654 L536.8,658.2 L537.7,662.7 L540.1,666.8 L540.9,671.3 L536.1,671.3 L531.4,671.3 L530.7,667.4 L530,663.6 L525.5,663 L520.9,663.1 L516.4,663.6 L515.6,659.8 L513.8,656.3 L512.3,652.7 L506.8,648.6 L504.1,643.2 L505.5,637.7 L503.3,633.9 L500,630.9 L499.6,626.7 L499,622.6 L497.5,618.7 L497.3,614.5 L493.5,616.6 L489.3,617.8 L485.1,618.8 L480.9,620 L479.3,616 L479.7,611.7 L478.2,607.7 L480.6,604.7 L483,601.6 L485.3,598.5 L487.5,595.3 L490.2,590.9 L494,586.5 L494.5,581.1 L494.8,576.8 L494.5,572.4 L494.2,568 L494,563.6 L492.9,557.1 L489.1,554.9 L486.4,551.6 L486.9,546.7 L484.7,543.5 L480.4,540.2 L476,537.5 L473.8,541.8 L473.3,548.9 L469.5,552.2 L465.1,549.5 L460.7,546.2 L456.4,543.5 L449.8,542.7 L445.5,543.5 L441.1,544.5 L438.9,547.3 L434.5,551.6 L429.1,555.1 L424.7,556 L421.5,559.8 L419.3,564.2 L416,565.3 L411.8,566.7 L407.3,566.4 L405.1,567.5 L399.6,568 L393.6,568 L392.5,565.8 L393.1,560.4 L392,556"/>
<path class="b" d="M184.5,467.3 L191.4,467.3 L194.5,464.2 L196.8,460.5 L195.9,455.6 L194.1,450.9 L192.3,446.8 L190.5,442.7 L188.6,438.6 L189.8,434.6 L189.7,430.3 L191.4,426.4"/>
<path class="b" d="M146.4,396.4 L146.3,392.7 L145,389.2 L145,385.5"/>
<path class="b" d="M844.5,598.6 L849.5,602.7 L849.5,613.6 L845.9,627.3 L840.5,643.6 L833.1,658.6 L828.2,650.5 L822.7,640.9 L822.2,630 L828.2,619.1 L835,605.5Z"/>
<path class="b" d="M645.9,707.3 L655.5,699.1 L666.4,695 L682.7,695 L681.4,703.2 L675.9,715.5 L663.6,726.4 L654.1,726.4 L647.3,720.9Z"/>
<path class="b" d="M982.6,286 L974.5,290 L966.4,299.5 L969.1,313.2 L947.3,325.5 L932.3,330.9 L935,337.7 L932.3,341.8 L947.3,352.7 L958.2,369.1 L963.6,385.5 L965,399.1 L962.3,411.4 L955.5,418.2 L936.4,423.6 L921.4,431.3 L917.3,420.9 L916.7,414.1 L923.3,406.7 L914.5,384.9 L922.7,382.7 L918.6,371.8 L913.2,368.5 L902.3,369.6 L892.2,362.3 L898.2,352.7 L903.6,338.5 L885.9,330.9"/>
<path class="b" d="M1050,406.3 L1015.7,410.5 L1005.8,419.5 L996.8,427.7 L987.7,431.4 L987.4,440.1 L996.8,437.9 L1003.4,439.3 L1008.3,433.5 L1019,431 L1032.2,427.7 L1042.1,422.5 L1050,423.1"/>
<path class="b" d="M987.4,440.1 L980.3,440.9 L972.9,446.7 L965.5,451.6 L968.8,459.8 L975.9,460.3 L977.5,454.9 L981.2,460.7 L981.2,468.9 L975.4,473.8 L975.4,488.6 L984.1,491.6 L994,484.5 L995.1,477.1 L998.4,465.6 L1002.2,460.3 L997.6,449.1 L997.3,443.4 L988.6,442.6 L987.4,440.1"/>
<path class="b" d="M1043.7,434.3 L1035.5,431.9 L1029.7,432.7 L1025.6,438.4 L1016.5,437.9 L1014.9,444.2 L1007.8,448.8 L1009.1,455.7 L1013.3,459.3 L1018.7,460.3 L1020.7,454.1 L1024.8,450 L1030.2,446.7 L1035.8,451.6 L1044.5,441.2 L1043.7,434.3"/>
<path class="b" d="M643.2,665 L628.2,670.5 L614.5,682.7 L605,696.4 L599.5,712.7 L603.6,723.6 L610.5,729.9"/>
<path class="b" d="M106.8,224.5 L110.9,213.6 L127.3,203.3 L147.7,204.9 L168.2,206 L181.8,205.5 L195.5,203.3 L190,208.2 L181.8,211.5 L173.6,210.4 L166.8,206.8 L154.5,208.2 L135.5,208.2 L117.7,217.7 L118.5,236 L106.8,224.5"/>
<path class="b" d="M639.6,69.5 L629.5,79.6 L619.3,89.8 L606.2,97.5 L594.5,110.2 L568.4,114.1 L581.5,119.3 L604,114.1 L609.8,102.9 L621.5,97.5 L635.3,94.2 L646.9,83.3 L654.2,76.7 L659,69.5"/>
<path class="b" d="M261.4,730 L275,723.2 L286.4,709.5 L300,698.2 L313.6,680 L322.7,666.4 L331.8,664.1 L332.7,658.2 L340.9,666.4 L363.6,661.8 L372.7,652.7 L382.7,644.5 L390.9,661.8 L400,680 L413.6,702.7 L418.2,711.8 L425,716.4 L427.3,730"/>
<path class="b" d="M982.6,285.9 L991.8,273.7 L1001,267.5 L1007.7,267.5 L1008.6,273.7 L1020.8,278.2 L1031.5,273.7 L1043.8,267.5 L1049.9,266"/>
<path class="b" d="M191.4,430.5 L195.4,429.3 L199.5,429.2 L203.6,429.1 L205.3,425.6 L205.9,421.7 L207.7,418.2 L211.4,414.4 L214.5,410 L219.1,412.1 L224.1,412.7 L228.9,413.8 L233.6,414.9 L237.1,412 L240.8,409.4 L244.5,406.7 L251.4,407.3 L255.5,411.4 L260,412 L264.5,412.4 L269.1,412.2 L273,411.1 L276.8,409.9 L280.3,407.7 L284.2,406.6 L288.2,405.9 L293.6,406.7 L296,403.9 L299.3,401.9 L301.8,399.1 L305.8,397.8 L310,397.2 L313.9,395.2 L318.2,395 L322.2,393.6 L326.3,393.3 L330.5,393.3 L334.5,392.3 L338.1,393.5 L341.8,394.4 L345.5,395 L349.1,396.7 L352.3,399.1 L357.1,397.8 L361.8,396.4 L365.6,397.2 L369.3,398.1 L373.2,398.4 L376.8,399.9 L378.2,393.6 L375.3,389.1 L371.4,385.5 L375.2,383 L379.5,381.4 L379.7,377.2 L378.2,373.2 L375.4,370.7 L371.4,370.2 L368.6,367.7 L366.7,363.9 L365.5,359.9 L363.2,356.3 L367.1,355.5 L370.2,353.1 L373.7,351.3 L377.2,349.7 L380.9,348.6 L384.9,348.5 L388.4,346.5 L392.4,346.3 L396.1,344.7 L400,344.5"/>
<path class="b" d="M351.8,400 L352.7,403.6 L352.9,407.5 L354.5,410.9 L356,414.4 L355.8,418.3 L357.3,421.8 L356.8,426.4 L355.7,430.9 L355.9,435.5 L357.9,438.9 L360.8,441.6 L362.7,445 L364.9,449.5 L368.2,453.2 L372.3,452.3 L376.2,450.6 L380.5,450.5"/>
<path class="b" d="M380,450.9 L384.1,453 L387.3,456.4 L390.9,459.1 L395.4,459.9 L400,460.6 L404.5,461.8 L408.3,462.1 L411.9,463.3 L415.5,464.5 L420,463.3 L424.7,463.3 L429.1,461.8 L432.8,463.9 L435.2,467.6 L438.6,470 L441.6,473.8 L445.5,476.8 L450.4,477.5 L455,479.5 L459.1,475.5 L462.9,475.3 L466.5,474 L470,472.7 L472.6,469.7 L474.1,465.9 L477.8,466 L481.4,466.6 L485,467.3 L487.9,471.3 L490.5,475.5 L491.5,479.5 L494,482.8 L495.9,486.4 L497,490.9 L497.8,495.4 L498.6,500 L499.4,504.5 L500.3,509 L500,513.6 L501.1,518.1 L500.4,522.8 L501.4,527.3 L501.3,531 L499.7,534.5 L500,538.2 L501.1,542.2 L501.4,546.4 L499.7,550.6 L497.3,554.5"/>
<path class="b" d="M474.1,465.9 L474.1,461.8 L475,458.2 L475.4,454.4 L476.8,450.9 L475.2,446.2 L474.1,441.4 L478.2,437.8 L481.6,439.7 L485.3,440.8 L489.1,441.4 L490.9,445.3 L493.4,448.8 L495.9,452.3 L499.6,455.6 L504.1,457.7 L507.1,460.4 L510.9,461.8 L515,459.1 L518.4,461.2 L521.8,463.2 L526,462.9 L530,461.8 L530.6,458.1 L532.7,455 L537,453.6 L540.9,451.5 L538.8,447.8 L536.8,444.1 L532.9,441 L528.6,438.6 L525.9,433.2 L530,430.5 L533.6,431.6 L537.4,431.9 L540.9,433.2 L543.9,430.5 L547.7,429.1 L542.3,425"/>
<path class="b" d="M457.7,275 L453.6,279.1 L452.4,283.1 L453.4,287.4 L452.3,291.4 L447.7,292.3 L443.2,293.5 L438.6,294.1 L435.7,297.1 L432,299.3 L429.1,302.3 L425.8,304.1 L423.9,307.4 L420.8,309.2 L418.2,311.8 L416.4,315 L414.1,317.8 L410,318.1 L405.9,318.6 L405.4,323.4 L404.5,328.2 L402.4,333.6 L404.7,338.2 L405.9,343.2 L401.9,344.7 L397.8,345.5 L393.6,345.9 L388.9,346.6 L384.5,348.6 L380,350"/>
<path class="b" d="M405.9,343.2 L410.6,341.4 L415.5,340.5 L420.3,340.7 L425,339.6 L429.6,341.3 L434.5,341.3 L438.2,342.8 L442.1,343.8 L445.5,345.9 L448.9,347.3 L452.2,349 L455,351.4 L459.3,354.3 L463.2,357.6 L467.3,356.8 L466.7,353 L467.1,349.3 L467.3,345.5 L467.8,341.8 L474.1,343.2 L477.7,345.1 L481.1,347.4 L485,348.6 L489.9,346.9 L494.5,344.5 L498,346.4 L501.4,348.6 L504.9,351.9 L508.2,355.5 L512.3,356.9 L516.4,358.2 L521.8,360.9 L526.7,362.8 L531.4,365 L534.7,366.6 L538.1,368 L540.9,370.5 L543.6,368.5 L546.4,374.5 L551.8,378.6 L553.5,383.3 L554.5,388.2 L556.6,392.7 L560,396.4 L557.7,399.6 L554.5,401.8 L552.5,405.9 L550.5,410 L548.9,414 L547.7,418.2 L544.6,420.5 L542.3,423.6 L543.6,429.9"/>
<path class="b" d="M459.1,276.4 L463.2,275.9 L467.3,276.4 L471.4,277.7 L473.8,282.3 L475.5,287.3 L477.9,291.9 L479.5,296.8 L476.8,300.9 L479.7,303.5 L482.3,306.4 L485.5,308.4 L488.5,310.5 L488.5,317.3 L493.2,316.7 L496.4,314.8 L498.6,311.8 L502.3,312 L505.9,311.6 L509.5,310.5 L515,310.5 L517.7,315.9 L513.6,321.4 L510.8,325.4 L506.8,328.2 L510.9,332.3 L514.6,332.9 L517.7,335 L523.2,339.1 L527.3,340.5 L528.6,345.9 L531.9,347.6 L535.5,348.6 L539.5,351.4 L543.6,348.6 L542.3,344.5 L546.6,343.8 L550.5,341.8 L557.3,343.2 L561.4,341.1 L565.5,339.1"/>
<path class="b" d="M560,341.8 L563.9,340.4 L567.3,338 L571.4,337.3 L575.9,339.5 L577,346.4 L574.3,349.3 L571.4,352 L568,354.3 L565.7,357.7 L566.8,364.5 L569.5,367.2 L572.5,369.6 L575.9,371.4 L582.7,373.6 L587.3,372.5 L591.2,370.6 L593.8,367.2 L597.1,364.5 L600.6,362 L604.3,360 L604.9,355.5 L605.5,350.9 L607.5,347.1 L608.9,343 L613.2,341.7 L616.8,339.1 L620.2,344.1 L618,349.8 L614.5,355.5 L615.7,360 L620.7,362.1 L625.9,363.4 L628.2,366.8 L632.6,369.1 L637.3,370.9 L641.9,370.4 L646.4,369.1 L648.6,362.3 L653.2,357.7 L655.5,350.9 L658.8,347.4 L662.3,344.1 L665.8,341.3 L669.1,338.4 L674.8,340.7 L680.5,337.3 L686.1,336.1"/>
<path class="b" d="M582.7,373.6 L587.3,377 L590.8,380 L593,383.9 L594.3,388 L596.4,391.8 L598.6,398.6 L595.2,403.2 L599.8,407.7 L605.5,411.1 L608.9,410 L612.3,414.5 L612.3,408.9 L616.8,405.5 L620.2,402 L616.8,396.4 L614.7,393.2 L613.4,389.5 L615.2,385.2 L615.7,380.5 L620.8,380.7 L625.9,380.5 L624.8,373.6 L626.2,370.1 L628.2,366.8"/>
<path class="b" d="M625.9,380.5 L629.3,382.3 L632.2,384.7 L635,387.3 L638.7,389.8 L642.4,392.1 L646.4,394.1 L646.5,398.7 L645.2,403.2 L645.4,407.8 L644.1,412.3 L639.5,414.5 L635,416.8 L628.2,419.1 L623.6,418.6 L619.1,418.6 L614.5,418 L612.3,414.5"/>
<path class="b" d="M614.5,418 L613.4,423.6 L615,427"/>
<path class="b" d="M686.1,336.1 L683.9,341.8 L682,346.6 L679.3,350.9 L676.9,355.4 L674.8,360 L677.3,364.3 L678.2,369.1 L677.4,373.7 L675.9,378.2 L674.3,382.8 L672.5,387.3 L672.5,391.2 L673.8,394.9 L674.8,398.6 L673.6,403.1 L673.6,407.7 L672.5,412.3 L671.4,416.8 L671.9,421.4 L671.4,425.9 L673.6,432.7 L676.3,437.1 L678.2,441.8 L679,445.5 L680.9,448.7 L682.7,452"/>
<path class="b" d="M686.1,336.1 L690.7,333.9 L693.3,330.8 L696.4,328.2 L698.6,324.8 L702,322.5 L706,323.6 L710,324.8 L713.6,322.7 L716.8,320.2 L721.3,319.5 L725.9,319.1 L730.5,314.5"/>
<path class="b" d="M730.5,314.5 L732.7,320.2 L730.8,323.8 L728.2,327 L731.4,330.1 L735,332.7 L734.8,337.3 L736.1,341.8 L731.1,343.9 L725.9,345.2 L724.3,349.6 L721.4,353.2 L722.5,360 L726.1,362.6 L729.3,365.7 L730.5,371.4 L728.3,374.9 L725.9,378.2 L724.5,382.1 L723.6,386.1 L720.2,389.5 L723.6,395.2"/>
<path class="b" d="M723.6,395.2 L723.6,400.4 L722.5,405.5 L719.3,407.4 L716.8,410 L712.1,411.9 L707.7,414.5 L703.1,415.6 L698.6,416.8 L694.3,419.5 L689.5,421.4 L684.7,422.4 L680.5,424.8 L676,425.7 L671.4,425.9"/>
<path class="b" d="M730.5,314.5 L728.2,310 L725.9,303.2 L729.2,298.9 L731.6,294.1 L733.5,291 L736.1,288.4 L740.7,288.4"/>
<path class="b" d="M723.6,395.2 L728.2,395.3 L732.7,396.4 L737.1,397.9 L741.8,398.6 L745.8,397.7 L749.8,397.5 L747.5,391.8 L750.9,389.5 L753.2,386.1 L755.4,382.1 L757.7,378.2 L760.8,374.9 L764.5,372.5 L768.1,370.2 L772,368.6 L775.9,366.8 L780.5,365.9 L785,364.5 L789.5,365.7 L796.4,366.4"/>
<path class="b" d="M748.2,397.7 L748.2,400 L751.3,402.4 L755,403.4 L750.8,406.8 L745.9,409.1 L743.2,413.2 L740.2,417 L744.4,418.9 L748.2,421.6 L750.5,426.1 L754.9,427.5 L759.5,427.3 L763.3,429 L766.4,431.8 L767.5,436.4 L764.6,439.8 L760.7,442 L757.3,437.5 L752.7,437.5 L751.6,444.3 L747,448.9 L748.2,454.5 L741.4,454.5 L744.8,460.2 L748.2,464.8 L752.3,464.6 L756.1,465.9 L756.7,469.7 L756.2,473.6 L757.3,477.3 L751.6,480.7 L749.3,485.2"/>
<path class="b" d="M766.4,431.8 L764.1,426.1 L765.2,421.6 L769.8,420 L774.3,422.7 L777.7,428.4 L784.5,427.3 L787.8,429 L791.4,429.5 L795.1,427 L798.2,423.9 L801.6,422.3 L803.9,419.3 L808.4,421.6"/>
<path class="b" d="M766.4,431.8 L773.2,434.1 L776.3,436.5 L780,437.5 L783,439.5 L785.7,442 L791.4,440.9 L791.3,445 L790.2,448.9 L793.6,454.5 L795.9,460.2 L800.5,461.4 L801.6,456.8 L806.1,458 L807.3,464.8 L803.9,468.2 L800.4,472.4 L798.2,477.3 L800.5,483 L806.1,487.5 L809.4,489 L813,489.8 L817.3,490.8 L820.9,493.2 L824.2,495.2 L827.7,496.6 L834.5,495.5"/>
<path class="b" d="M839.1,477.3 L836.8,481.8 L838,487.5 L836.4,491.6 L834.5,495.5 L836.8,496.6 L842.5,496.6"/>
<path class="b" d="M813,489.8 L812.6,493.8 L811.8,497.7 L809.2,500.8 L806.1,503.4 L805.5,507.5 L803.9,511.4 L801.7,515.3 L798.2,518.2 L795,521.3 L791.4,523.9"/>
<path class="b" d="M680,443.2 L682.3,450 L684.8,454.4 L686.8,459.1 L689.4,462 L693.2,463.1 L695.9,465.9 L700.3,467.8 L705,468.2 L709.4,466.6 L714.1,465.9 L718.1,466.2 L722,467 L723.2,471.2 L725.5,475 L729.2,477.2 L733.4,478.4 L736.9,480.6 L740.2,483 L744.9,483.4 L749.3,485.2"/>
<path class="b" d="M749.3,485.2 L751.6,488 L753.9,490.9 L755.8,494.2 L757.3,497.7 L756.1,504.5 L757.2,508.3 L759.5,511.4 L760.7,514.8"/>
<path class="b" d="M760.7,514.8 L763.9,512.6 L767.5,511.4 L769.4,514.7 L770.9,518.2 L774.2,516.4 L776.6,513.6 L780.4,515.2 L783.4,518.2 L787.4,519.2 L791.4,520.5 L791.4,523.9"/>
<path class="b" d="M760.7,514.8 L756.6,515.4 L752.7,517 L745.9,518.2 L741.1,520 L736.8,522.7 L732.5,525.1 L727.7,526.1 L726.6,529.5"/>
<path class="b" d="M717.5,519.3 L722,515.9 L723.9,519.7 L724.3,523.9 L726.6,529.5"/>
<path class="b" d="M726.6,529.5 L729.5,533.7 L731.1,538.6 L728.2,542.8 L726.6,547.7 L724.7,552.4 L722,556.8 L723.4,561.5 L725.5,565.9 L726,569.9 L728,573.4 L728.9,577.3 L729,581 L727.5,584.6 L727.8,588.3 L727.7,592 L728.4,594.5"/>
<path class="b" d="M791.4,523.9 L793.3,527.1 L794.1,530.8 L795.9,534.1 L796.8,538 L797,542 L801.6,543.2 L802.7,546.9 L804,550.6 L803.9,554.5 L807.7,556.6 L811.8,558 L815.2,554.5 L814.9,558.4 L815.8,562.1 L816.4,565.9 L818.6,571.6"/>
<path class="b" d="M664.8,669.5 L667,662.7 L670.3,661 L672.7,658.2 L674.4,654.8 L677.3,652.5 L680.7,646.8 L683.8,643.1 L687.5,640 L686.4,633.2 L688.6,629.8 L690.9,626.4 L693.3,622.7 L694.3,618.4 L696.7,614.8 L697.7,610.5 L696.6,607"/>
<path class="b" d="M696.6,607 L689.8,608.2 L687.5,602.5 L681.8,601.4 L683.9,597.8 L686.4,594.5 L686.5,590.5 L687.5,586.6 L685.2,580.9 L679.5,578.6 L676.2,581 L672.7,583.2 L665.9,582 L662,583.2 L658,584.3"/>
<path class="b" d="M696.6,607 L700,601.4 L706.8,600.2 L711.4,603.6 L714.3,599.4 L715.9,594.5 L720,595.1 L723.9,596.8 L728.4,594.5"/>
<path class="b" d="M728.4,594.5 L732.2,596.7 L736.4,598 L738.6,602.5 L734.9,605 L731.8,608.2 L736.4,611.6 L740.4,610.6 L744.1,609 L747.7,607 L751.6,608.9 L755.7,610.5 L756.8,605.9"/>
<path class="b" d="M756.8,605.9 L757.1,601.3 L758,596.8 L758.8,591.6 L760.2,586.6 L762.9,583.6 L765.9,580.9 L767.1,577.2 L766.7,573.2 L768.2,569.5 L771.3,566.3 L775,563.9 L776,558.8 L776.1,553.6 L778.7,551 L781.8,549.1 L785.3,546.9 L789.1,545.3 L793.2,544.5 L800,542.3 L797.7,540"/>
<path class="b" d="M756.8,605.9 L760.6,606.8 L764.5,607.1 L768.2,608.2 L769.8,612.1 L772.7,615 L772.5,618.9 L772.7,622.7 L773.9,626.4 L776.1,628.6"/>
<path class="b" d="M540.2,453 L545.9,449.5 L548.2,442.7 L550.5,437 L554.3,434.4 L558.4,432.5 L560.7,435.6 L561.8,439.3 L566.1,440.4 L569.8,442.7 L573.8,445 L577.7,447.3 L579.1,452.5 L581.1,457.5 L584,459.7 L586.8,462 L591.3,461 L595.9,460.9 L598.2,457.5"/>
<path class="b" d="M598.2,457.5 L601,455.1 L603.9,453 L602.7,447.3 L606.2,445.2 L609.5,442.7 L612.1,438.3 L614.1,433.6 L611.8,426.8 L613.9,423.6 L615.2,420"/>
<path class="b" d="M598.2,457.5 L605,458.6 L608.1,460.8 L611.8,462 L618.6,460.9 L621.9,463.4 L625.5,465.5 L630.2,466.6 L634.5,468.9 L638.3,471.1 L642.5,472.3 L646.7,474.2 L650.5,476.8 L655.6,478.6 L660.7,480.2"/>
<path class="b" d="M660.7,480.2 L659.9,476.3 L659.5,472.3 L660.7,465.5 L664.8,464.1 L668.6,462 L665.2,456.4 L659.5,453 L666.4,451.8 L670.3,451.3 L674.3,451.8 L681.1,450.7"/>
<path class="b" d="M642.5,472.3 L641.2,476.4 L639.1,480.2 L636.8,487 L633.7,490.8 L630,493.9 L628.3,498.1 L625.5,501.8 L623.2,507.5 L618.6,509.8 L614.1,506.4 L608.4,508.6 L602.7,505.2 L599.3,509.8 L601.6,514.3 L598.3,516.7 L595.9,520 L598.2,524.5 L602.7,529.1 L605.5,532 L608.4,534.8 L613,538.2 L616.4,535.9"/>
<path class="b" d="M608.4,534.8 L603.9,538.2 L600.5,534.8 L602.7,540.5 L606.2,541.9 L609.5,543.9 L609.5,550.7 L605.8,551.2 L601.9,550.6 L598.2,551.8 L593.6,554.1 L592.5,549.5 L586.8,548.4 L581.1,550.7 L580,546.7 L578.9,542.7 L575.5,537 L573.2,539.3"/>
<path class="b" d="M501.6,542.7 L502.7,543.9 L505,540.5 L506.3,536.3 L508.4,532.5 L510.8,536.8 L514.1,540.5 L515.6,545.1 L517.5,549.5 L523.2,550.7 L525.4,555.1 L528.9,558.6 L532.3,562.8 L534.5,567.7 L536.3,572.2 L538,576.8 L541.4,582.5 L547,582.5 L551.7,581.9 L556.1,580.2 L559.5,574.5 L559.5,569.9 L558.4,565.5 L560.2,561.1 L560.7,556.4 L563.1,553.5 L566.4,551.8 L570.9,547.3 L571.7,543.2 L573.2,539.3"/>
<path class="b" d="M660.7,480.2 L665,482.5 L668.6,485.9 L668.6,492.7 L665.5,496 L661.8,498.4 L657.2,498.2 L652.7,499.5 L648.7,501.1 L644.8,503 L642.5,508.6 L643.5,512.4 L645.9,515.5 L649.4,517.6 L652.7,520 L656.1,524.5"/>
<path class="b" d="M656.1,524.5 L654.9,529 L655,533.6 L652.2,538.2 L649.3,542.7 L647,538.2 L644.4,535.6 L642.5,532.5 L639.1,528 L632.3,529.1 L627.7,525.7 L625.1,528.3 L623.2,531.4 L619.4,533 L616.4,535.9"/>
<path class="b" d="M656.1,524.5 L658.4,520.7 L661.8,517.7 L666.4,515.6 L670.9,513.2 L675,511.7 L678.9,509.8 L683,511.1 L686.8,513.2 L691.4,514.7 L695.9,516.6 L700.2,518.3 L703.9,521.1 L707,518.4 L710.7,516.6 L717.5,517.7"/>
<path class="b" d="M656.1,524.5 L657.1,529 L657.3,533.6 L656.5,538.7 L656.1,543.9 L657,547.9 L658.4,551.8 L656.1,558.6 L653.7,561.8 L650.5,564.3 L653.4,566.6 L655,570 L657,574.4 L658.4,579.1 L659.5,583.6"/>
<path class="b" d="M659.5,583.6 L655.4,586.2 L651.6,589.3 L647.8,591.5 L643.6,592.7 L640.3,594.7 L636.8,596.1 L630,598.4 L626.8,595.9 L624.3,592.7 L620.2,593.9 L616.4,596.1 L612.4,598.3 L608.4,600.7 L602.7,604.1 L598.3,606 L593.6,606.4 L589.8,604.7 L586.8,601.8"/>
<path class="b" d="M586.8,601.8 L584.5,595 L580,590.5 L581.5,586.4 L583.4,582.5 L584.5,576.8 L578.9,572.3 L573.2,574.5 L570.9,567.7 L569.8,562 L575.5,558.6 L582.3,556.4 L589.1,557.5 L593.6,554.1"/>
<path class="b" d="M845.5,81.6 L848.2,87.1 L844.9,89.8 L841.6,92.4 L838.6,95.3 L842.9,96 L847,97.5 L850.9,99.4 L854.4,101.1 L858.2,102 L861.8,103.5 L863.1,107.5 L863.9,111.6 L864.5,115.7 L867.9,117.8 L871.9,118.1 L875.5,119.8 L879.1,119.5 L882.7,118.7 L886.4,118.5 L890.9,117 L895.6,116.4 L900,114.4 L902.2,117.4 L905.6,119 L908.5,121.1 L910.9,123.9 L908.8,127.4 L907.8,131.4 L905.5,134.8 L903.4,139.4 L900,143 L900,147.8 L901.4,152.5 L898,156.7 L894.5,160.7"/>
<path class="b" d="M894.5,160 L892.3,164.4 L891.1,169.1 L890.7,173.1 L890,177 L886.6,173.6 L882,172.5 L878.5,174.2 L875.8,177.1 L873,179.8 L869.5,181.6 L867.2,184.5 L863.8,186.1 L860.9,188.2 L858.2,190.7 L859.9,194.5 L862.7,197.5 L865,200.6 L866.1,204.3 L869.5,199.8 L875.2,200.9 L874.1,204.3 L868.4,205.5 L865,208.9 L869.5,211.1 L874.6,211.9 L879.8,212.3"/>
<path class="b" d="M869.5,211.1 L866.9,214.1 L863.9,216.8 L862.7,222.5 L857,219.1 L851.4,216.8 L846.8,221.4 L849.1,224.2 L851.4,227 L853.1,232 L853.6,237.3 L854.4,241 L854.4,244.8 L854.8,248.6 L858.8,249.3 L862.7,248.6 L867.3,245.2 L869.6,248.9 L870.7,253.2 L872.4,257.7 L874.1,262.3 L877.5,265.7"/>
<path class="b" d="M877.5,265.7 L874.3,268.2 L871.8,271.4 L865,273.6 L858.2,275.9 L853.9,276.9 L850.2,279.3 L846.5,282 L842.3,283.9 L839.1,286 L835.1,286.2 L832,288.4 L828.2,290 L825.2,293 L821.8,295.2"/>
<path class="b" d="M877.5,265.7 L880.7,267.8 L882.3,271.5 L885.5,273.6 L890,272.5 L894.5,270.2 L896.2,273.6 L896.9,277.3 L899.1,280.5 L900.6,285.1 L902.5,289.5 L901.4,296.4 L903.2,300.1 L905.9,303.2 L907.6,307 L908.2,311.1"/>
<path class="b" d="M879.8,212.3 L881.6,217.1 L884.3,221.4 L887.5,223.9 L890,227 L893.8,226.8 L897.6,227.6 L901.4,227 L905.7,229.3 L910.5,230.5 L917.3,232.7 L921.3,232.8 L925.2,233.9 L927.3,238.3 L928.6,243 L932.1,243.9 L935.5,245.2 L937.7,248.1 L940,250.9 L943.3,249 L946.8,247.5 L951.4,250.9 L954.2,255.2 L955.9,260 L962.7,261.1 L965.8,258 L969.5,255.5 L974.1,254.7 L978.6,253.2 L980.9,260 L985.2,262.9 L990,264.5"/>
<path class="b" d="M740,287.6 L741.9,291.8 L742.2,296.4 L747.3,298.5 L750.3,296.1 L753.1,293.5 L758.9,292.7 L764,290.5 L769.8,291.3 L771.7,287.4 L772.7,283.3 L777.8,281.8 L782.2,278.9 L786.5,279.6 L790.2,284.7 L793.8,290.5 L791.6,294.9 L794.5,298.5 L796,302.9 L802.5,303.6 L808.4,302.9 L809.8,296.4 L809.7,291.6 L808.4,286.9 L812.7,283.3 L817.1,286.9 L819.9,291 L821.5,295.6"/>
<path class="b" d="M808.4,302.9 L805.3,306.8 L802.5,310.9 L805.5,315.3 L811.3,317.5 L814.2,322.5 L816.4,326.9"/>
<path class="b" d="M750.2,327.6 L753.8,324.7 L758.2,324 L754.5,318.2 L758.2,315.4 L761.8,312.4 L765.2,310.4 L768.4,308 L771.3,312.4 L776.1,313.5 L780.7,315.3 L777.8,318.2 L778.5,324 L776.4,326.9 L771.3,326.9 L772.7,331.3 L770.3,334.3 L767.6,337.1 L763.3,334.9 L758.9,336.4 L754.5,334.2 L750.9,332.7 L750.2,327.6"/>
<path class="b" d="M778.5,324 L783.6,326.2 L786.5,327.6 L783.6,332 L785.8,335.6 L788.7,339.3 L788,342.9"/>
<path class="b" d="M772.7,331.3 L775.6,334.2 L771.3,339.3 L769.8,345.8 L772.7,350.9 L777.8,353.1 L782.9,353.1"/>
<path class="b" d="M823.6,310.2 L827.3,307.3 L830.9,307 L834.5,306.5 L836.7,310.2 L833.1,313.8 L828.7,313.1 L823.6,310.2"/>
<path class="b" d="M586.4,602.2 L585.1,605.9 L583.5,609.5 L586.4,614.5 L592.2,615.3 L595.1,619.6 L600.2,619.9 L605.3,619.6 L608.2,625.5 L605.3,631.3 L600.9,634.2 L605.3,638.5"/>
<circle class="c" cx="324" cy="257" r="5"/><circle class="c" cx="691" cy="311" r="5"/><circle class="c" cx="765" cy="328" r="5"/><circle class="c" cx="776" cy="343" r="5"/><circle class="c" cx="872" cy="293" r="5"/><circle class="c" cx="902" cy="255" r="5"/><circle class="c" cx="922" cy="220" r="5"/><circle class="c" cx="609" cy="355" r="5"/><circle class="c" cx="705" cy="366" r="5"/><circle class="c" cx="736" cy="362" r="5"/><circle class="c" cx="540" cy="390" r="5"/><circle class="c" cx="571" cy="399" r="5"/><circle class="c" cx="774" cy="388" r="5"/><circle class="c" cx="650" cy="432" r="5"/><circle class="c" cx="722" cy="423" r="5"/><circle class="c" cx="778" cy="476" r="5"/><circle class="c" cx="800" cy="473" r="5"/><circle class="c" cx="843" cy="488" r="5"/><circle class="c" cx="823" cy="506" r="5"/><circle class="c" cx="733" cy="501" r="5"/><circle class="c" cx="575.2" cy="498" r="5"/><circle class="c" cx="613" cy="519" r="5"/><circle class="c" cx="757" cy="535" r="5"/><circle class="c" cx="712" cy="544" r="5"/><circle class="c" cx="809" cy="583" r="5"/><circle class="c" cx="616" cy="573" r="5"/><circle class="c" cx="555" cy="601" r="5"/><circle class="c" cx="641" cy="642" r="5"/><circle class="c" cx="716" cy="636" r="5"/><circle class="c" cx="672" cy="693" r="5"/><circle class="c" cx="377" cy="511" r="5"/>
</g>
<rect x="100" y="69" width="950" height="662" fill="none" stroke="#000" stroke-width="2" shape-rendering="crispEdges"/>
<line x1="130.0" y1="732" x2="130.0" y2="737.5" stroke="#000" stroke-width="1" shape-rendering="crispEdges"/><text x="114.4" y="755.5" font-size="19.5" textLength="32" lengthAdjust="spacingAndGlyphs">75E</text>
<line x1="206.7" y1="732" x2="206.7" y2="737.5" stroke="#000" stroke-width="1" shape-rendering="crispEdges"/><text x="191.1" y="755.5" font-size="19.5" textLength="32" lengthAdjust="spacingAndGlyphs">80E</text>
<line x1="283.3" y1="732" x2="283.3" y2="737.5" stroke="#000" stroke-width="1" shape-rendering="crispEdges"/><text x="267.7" y="755.5" font-size="19.5" textLength="32" lengthAdjust="spacingAndGlyphs">85E</text>
<line x1="359.9" y1="732" x2="359.9" y2="737.5" stroke="#000" stroke-width="1" shape-rendering="crispEdges"/><text x="344.3" y="755.5" font-size="19.5" textLength="32" lengthAdjust="spacingAndGlyphs">90E</text>
<line x1="436.6" y1="732" x2="436.6" y2="737.5" stroke="#000" stroke-width="1" shape-rendering="crispEdges"/><text x="421.0" y="755.5" font-size="19.5" textLength="32" lengthAdjust="spacingAndGlyphs">95E</text>
<line x1="513.2" y1="732" x2="513.2" y2="737.5" stroke="#000" stroke-width="1" shape-rendering="crispEdges"/><text x="492.1" y="755.5" font-size="19.5" textLength="43" lengthAdjust="spacingAndGlyphs">100E</text>
<line x1="589.9" y1="732" x2="589.9" y2="737.5" stroke="#000" stroke-width="1" shape-rendering="crispEdges"/><text x="568.8" y="755.5" font-size="19.5" textLength="43" lengthAdjust="spacingAndGlyphs">105E</text>
<line x1="666.5" y1="732" x2="666.5" y2="737.5" stroke="#000" stroke-width="1" shape-rendering="crispEdges"/><text x="645.4" y="755.5" font-size="19.5" textLength="43" lengthAdjust="spacingAndGlyphs">110E</text>
<line x1="743.2" y1="732" x2="743.2" y2="737.5" stroke="#000" stroke-width="1" shape-rendering="crispEdges"/><text x="722.1" y="755.5" font-size="19.5" textLength="43" lengthAdjust="spacingAndGlyphs">115E</text>
<line x1="819.9" y1="732" x2="819.9" y2="737.5" stroke="#000" stroke-width="1" shape-rendering="crispEdges"/><text x="798.8" y="755.5" font-size="19.5" textLength="43" lengthAdjust="spacingAndGlyphs">120E</text>
<line x1="896.5" y1="732" x2="896.5" y2="737.5" stroke="#000" stroke-width="1" shape-rendering="crispEdges"/><text x="875.4" y="755.5" font-size="19.5" textLength="43" lengthAdjust="spacingAndGlyphs">125E</text>
<line x1="973.1" y1="732" x2="973.1" y2="737.5" stroke="#000" stroke-width="1" shape-rendering="crispEdges"/><text x="952.0" y="755.5" font-size="19.5" textLength="43" lengthAdjust="spacingAndGlyphs">130E</text>
<line x1="1049.8" y1="732" x2="1049.8" y2="737.5" stroke="#000" stroke-width="1" shape-rendering="crispEdges"/><text x="1028.7" y="755.5" font-size="19.5" textLength="43" lengthAdjust="spacingAndGlyphs">135E</text>
<line x1="94" y1="695.3" x2="99" y2="695.3" stroke="#000" stroke-width="1" shape-rendering="crispEdges"/><text x="54" y="702.4" font-size="21" textLength="34.7" lengthAdjust="spacingAndGlyphs">20N</text>
<line x1="94" y1="603.3" x2="99" y2="603.3" stroke="#000" stroke-width="1" shape-rendering="crispEdges"/><text x="54" y="610.4" font-size="21" textLength="34.7" lengthAdjust="spacingAndGlyphs">25N</text>
<line x1="94" y1="511.3" x2="99" y2="511.3" stroke="#000" stroke-width="1" shape-rendering="crispEdges"/><text x="54" y="518.4" font-size="21" textLength="34.7" lengthAdjust="spacingAndGlyphs">30N</text>
<line x1="94" y1="419.4" x2="99" y2="419.4" stroke="#000" stroke-width="1" shape-rendering="crispEdges"/><text x="54" y="426.5" font-size="21" textLength="34.7" lengthAdjust="spacingAndGlyphs">35N</text>
<line x1="94" y1="327.4" x2="99" y2="327.4" stroke="#000" stroke-width="1" shape-rendering="crispEdges"/><text x="54" y="334.5" font-size="21" textLength="34.7" lengthAdjust="spacingAndGlyphs">40N</text>
<line x1="94" y1="235.4" x2="99" y2="235.4" stroke="#000" stroke-width="1" shape-rendering="crispEdges"/><text x="54" y="242.5" font-size="21" textLength="34.7" lengthAdjust="spacingAndGlyphs">45N</text>
<line x1="94" y1="143.4" x2="99" y2="143.4" stroke="#000" stroke-width="1" shape-rendering="crispEdges"/><text x="54" y="150.5" font-size="21" textLength="34.7" lengthAdjust="spacingAndGlyphs">50N</text>
<rect x="110.5" y="760.5" width="73.4" height="30.5" fill="#8A2BE2" stroke="#000" stroke-width="1" shape-rendering="crispEdges"/>
<rect x="183.9" y="760.5" width="73.4" height="30.5" fill="#9932CC" stroke="#000" stroke-width="1" shape-rendering="crispEdges"/>
<rect x="257.3" y="760.5" width="73.4" height="30.5" fill="#B03060" stroke="#000" stroke-width="1" shape-rendering="crispEdges"/>
<rect x="330.7" y="760.5" width="73.4" height="30.5" fill="#C71585" stroke="#000" stroke-width="1" shape-rendering="crispEdges"/>
<rect x="404.1" y="760.5" width="73.4" height="30.5" fill="#FF0000" stroke="#000" stroke-width="1" shape-rendering="crispEdges"/>
<rect x="477.5" y="760.5" width="73.4" height="30.5" fill="#F62E5A" stroke="#000" stroke-width="1" shape-rendering="crispEdges"/>
<rect x="550.9" y="760.5" width="73.4" height="30.5" fill="#FF8C00" stroke="#000" stroke-width="1" shape-rendering="crispEdges"/>
<rect x="624.3" y="760.5" width="73.4" height="30.5" fill="#FDAE25" stroke="#000" stroke-width="1" shape-rendering="crispEdges"/>
<rect x="697.7" y="760.5" width="73.4" height="30.5" fill="#FFE800" stroke="#000" stroke-width="1" shape-rendering="crispEdges"/>
<rect x="771.1" y="760.5" width="73.4" height="30.5" fill="#F5F566" stroke="#000" stroke-width="1" shape-rendering="crispEdges"/>
<rect x="844.5" y="760.5" width="73.4" height="30.5" fill="#6CA834" stroke="#000" stroke-width="1" shape-rendering="crispEdges"/>
<rect x="917.9" y="760.5" width="73.4" height="30.5" fill="#8FCE50" stroke="#000" stroke-width="1" shape-rendering="crispEdges"/>
<text x="184.6" y="812.6" font-size="23.5" text-anchor="middle" letter-spacing="1.4">0.1</text>
<text x="258.0" y="812.6" font-size="23.5" text-anchor="middle" letter-spacing="1.4">0.2</text>
<text x="331.4" y="812.6" font-size="23.5" text-anchor="middle" letter-spacing="1.4">0.4</text>
<text x="404.8" y="812.6" font-size="23.5" text-anchor="middle" letter-spacing="1.4">0.6</text>
<text x="478.2" y="812.6" font-size="23.5" text-anchor="middle" letter-spacing="1.4">0.8</text>
<text x="551.6" y="812.6" font-size="23.5" text-anchor="middle" letter-spacing="1.4">1</text>
<text x="625.0" y="812.6" font-size="23.5" text-anchor="middle" letter-spacing="1.4">2</text>
<text x="698.4" y="812.6" font-size="23.5" text-anchor="middle" letter-spacing="1.4">4</text>
<text x="771.8" y="812.6" font-size="23.5" text-anchor="middle" letter-spacing="1.4">6</text>
<text x="845.2" y="812.6" font-size="23.5" text-anchor="middle" letter-spacing="1.4">8</text>
<text x="918.6" y="812.6" font-size="23.5" text-anchor="middle" letter-spacing="1.4">10</text>
<text x="159" y="699" font-size="19.5" letter-spacing="1">版权所有:</text><text x="253.6" y="699" font-size="19.5" letter-spacing="0.6">南京大学</text><line x1="334.5" y1="675.5" x2="334.5" y2="707" stroke="#000" stroke-width="1" shape-rendering="crispEdges"/><text x="346.4" y="699" font-size="19.5" textLength="196" lengthAdjust="spacing">南京创蓝科技有限公司</text>
</svg></body></html>
